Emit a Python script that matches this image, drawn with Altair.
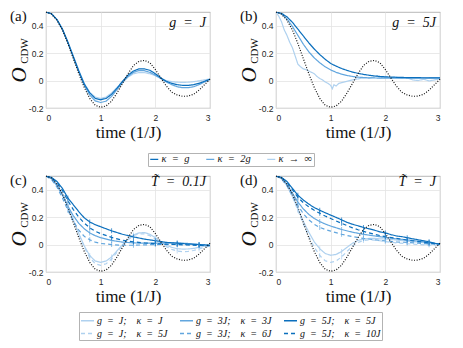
import altair as alt
import pandas as pd

# ---------------- data ----------------
T31 = [round(0.1 * i, 1) for i in range(31)]
T26 = [round(0.1 * i, 1) for i in range(21)] + [2.2, 2.4, 2.6, 2.8, 3.0]
T21 = [round(0.1 * i, 1) for i in range(11)] + [1.2, 1.4, 1.6, 1.8, 2.0, 2.2, 2.4, 2.6, 2.8, 3.0]

FREE = [0.5, 0.485, 0.44, 0.37, 0.27, 0.16, 0.05, -0.05, -0.13, -0.18, -0.195,
        -0.185, -0.15, -0.09, -0.02, 0.05, 0.11, 0.14, 0.147, 0.13, 0.08,
        0.02, -0.04, -0.085, -0.105, -0.115, -0.113, -0.1, -0.07, -0.03, 0.01]

# panel (a): g = J
A_KG = [0.5, 0.487, 0.445, 0.375, 0.28, 0.175, 0.07, -0.025, -0.09, -0.13, -0.14,
        -0.13, -0.1, -0.055, -0.005, 0.04, 0.07, 0.085, 0.085, 0.075, 0.05,
        0.02, -0.005, -0.02, -0.03, -0.035, -0.035, -0.03, -0.02, -0.005, 0.01]
A_K2G = [0.5, 0.487, 0.445, 0.373, 0.277, 0.17, 0.063, -0.035, -0.105, -0.148, -0.16,
         -0.15, -0.115, -0.065, -0.015, 0.03, 0.06, 0.073, 0.072, 0.06, 0.04,
         0.015, -0.01, -0.03, -0.045, -0.052, -0.052, -0.045, -0.03, -0.01, 0.01]
A_KINF = [0.5, 0.487, 0.446, 0.377, 0.283, 0.178, 0.075, -0.02, -0.085, -0.12, -0.13,
          -0.12, -0.09, -0.05, -0.01, 0.025, 0.05, 0.058, 0.058, 0.05, 0.035,
          0.015, 0.0, -0.008, -0.012, -0.013, -0.012, -0.008, -0.002, 0.005, 0.012]

# panel (b): g = 5J
B_KG = [0.5, 0.49, 0.465, 0.425, 0.375, 0.325, 0.275, 0.23, 0.19, 0.155, 0.125,
        0.105, 0.088, 0.074, 0.062, 0.053, 0.045, 0.039, 0.034, 0.03, 0.027,
        0.024, 0.022, 0.021, 0.02, 0.02]
B_K2G = [0.5, 0.485, 0.45, 0.395, 0.33, 0.265, 0.21, 0.165, 0.13, 0.1, 0.078,
         0.06, 0.047, 0.037, 0.03, 0.025, 0.022, 0.02, 0.019, 0.018, 0.018,
         0.018, 0.018, 0.018, 0.019, 0.02]
B_KINF_T = [0, 0.05, 0.1, 0.15, 0.2, 0.25, 0.3, 0.35, 0.4, 0.45, 0.5, 0.55, 0.6, 0.65,
            0.7, 0.75, 0.8, 0.85, 0.9, 0.95, 1.0, 1.03, 1.06, 1.1, 1.15, 1.2, 1.3,
            1.4, 1.5, 1.6, 1.7, 1.8, 1.85, 1.9, 2.0, 2.1, 2.2, 2.3, 2.4, 2.5, 2.6,
            2.7, 2.8, 2.9, 3.0]
B_KINF = [0.5, 0.47, 0.43, 0.37, 0.33, 0.28, 0.24, 0.18, 0.12, 0.1, 0.085, 0.08, 0.07,
          0.06, 0.05, 0.03, 0.015, 0.005, -0.01, -0.02, -0.035, -0.06, -0.03, -0.04,
          -0.02, -0.015, -0.005, 0.005, 0.012, 0.02, 0.018, 0.025, 0.035, 0.02, 0.028,
          0.02, 0.025, 0.015, 0.02, 0.005, 0.0, 0.01, -0.003, 0.005, 0.012]

# panel (c): T = 0.1J
C_J_J = [0.5, 0.485, 0.44, 0.37, 0.28, 0.18, 0.08, -0.01, -0.08, -0.12, -0.13,
         -0.12, -0.09, -0.045, 0.0, 0.04, 0.07, 0.085, 0.088, 0.075, 0.05,
         0.02, -0.005, -0.02, -0.03, -0.033, -0.032, -0.028, -0.02, -0.012, -0.008]
C_J_5J = [0.5, 0.485, 0.44, 0.37, 0.28, 0.18, 0.075, -0.02, -0.095, -0.14, -0.152,
          -0.14, -0.105, -0.055, -0.005, 0.035, 0.065, 0.078, 0.078, 0.065, 0.04,
          0.012, -0.015, -0.035, -0.047, -0.052, -0.05, -0.043, -0.032, -0.02, -0.01]
C_3J_3J = [0.5, 0.48, 0.43, 0.36, 0.28, 0.21, 0.155, 0.115, 0.085, 0.065, 0.05,
           0.03, 0.018, 0.012, 0.01, 0.01, 0.012, 0.012, 0.008, 0.0, -0.005]
C_3J_6J = [0.5, 0.475, 0.42, 0.34, 0.25, 0.17, 0.105, 0.06, 0.035, 0.018, 0.008,
           0.0, -0.005, -0.005, -0.002, 0.0, 0.002, 0.003, 0.0, -0.003, -0.006]
C_5J_5J = [0.5, 0.49, 0.46, 0.41, 0.34, 0.29, 0.24, 0.195, 0.165, 0.145, 0.13,
           0.1, 0.075, 0.056, 0.04, 0.028, 0.016, 0.01, 0.004, 0.0, -0.005]
C_5J_10J = [0.5, 0.487, 0.452, 0.395, 0.32, 0.255, 0.2, 0.157, 0.122, 0.097, 0.08,
            0.052, 0.032, 0.02, 0.012, 0.007, 0.003, 0.0, -0.003, -0.006, -0.008]

# panel (d): T = J
D_J_J = [0.5, 0.48, 0.43, 0.35, 0.26, 0.17, 0.09, 0.02, -0.03, -0.065, -0.078,
         -0.072, -0.05, -0.02, 0.01, 0.03, 0.04, 0.045, 0.045, 0.042, 0.04,
         0.038, 0.033, 0.029, 0.025, 0.021, 0.018, 0.014, 0.01, 0.006, 0.003]
D_J_5J = [0.5, 0.48, 0.43, 0.35, 0.25, 0.15, 0.06, -0.02, -0.08, -0.118, -0.13,
          -0.12, -0.09, -0.05, -0.01, 0.015, 0.03, 0.035, 0.033, 0.028, 0.022,
          0.012, 0.006, 0.0, -0.004, -0.005]
D_3J_3J = [0.5, 0.485, 0.44, 0.375, 0.31, 0.26, 0.22, 0.19, 0.168, 0.15, 0.135,
           0.11, 0.09, 0.075, 0.063, 0.052, 0.042, 0.034, 0.025, 0.015, 0.003]
D_3J_6J = [0.5, 0.48, 0.43, 0.36, 0.285, 0.225, 0.18, 0.148, 0.125, 0.11, 0.098,
           0.075, 0.058, 0.045, 0.035, 0.027, 0.02, 0.015, 0.01, 0.005, 0.0]
D_5J_5J = [0.5, 0.49, 0.46, 0.41, 0.36, 0.325, 0.295, 0.27, 0.25, 0.232, 0.215,
           0.198, 0.18, 0.162, 0.148, 0.137, 0.125, 0.115, 0.105, 0.093, 0.085,
           0.073, 0.063, 0.058, 0.05, 0.042, 0.035, 0.028, 0.02, 0.01, 0.002]
D_5J_10J = [0.5, 0.49, 0.455, 0.4, 0.345, 0.305, 0.275, 0.25, 0.228, 0.208, 0.19,
            0.172, 0.155, 0.138, 0.122, 0.108, 0.096, 0.085, 0.075, 0.066, 0.058,
            0.045, 0.033, 0.022, 0.012, 0.003]

# legend labels
ES = "\u2002"   # en space
QS = "\u2003"   # em space
K_NAMES = [f"κ{ES}={ES}g", f"κ{ES}={ES}2g", f"κ{ES}→{ES}∞"]
S_NAMES = [f"g{ES}={ES}J;{QS}κ{ES}={ES}J", f"g{ES}={ES}3J;{QS}κ{ES}={ES}3J",
           f"g{ES}={ES}5J;{QS}κ{ES}={ES}5J", f"g{ES}={ES}J;{QS}κ{ES}={ES}5J",
           f"g{ES}={ES}3J;{QS}κ{ES}={ES}6J", f"g{ES}={ES}5J;{QS}κ{ES}={ES}10J"]
TICK_T = [0.4, 0.8, 1.2, 1.6, 2.0, 2.4, 2.8]

DARK, MID, LIGHT = "#0b6fbd", "#62a6de", "#afd1ef"
SOLID, DASH = [1, 0], [4, 3]
SERIF = "Liberation Serif"


def frame(pairs):
    rows = []
    for name, ts, vs in pairs:
        for t, v in zip(ts, vs):
            rows.append({"s": name, "t": t, "v": v})
    return pd.DataFrame(rows)


df_free = pd.DataFrame({"t": T31, "v": FREE})
df_a = frame([(K_NAMES[2], T31, A_KINF), (K_NAMES[1], T31, A_K2G), (K_NAMES[0], T31, A_KG)])
df_b = frame([(K_NAMES[2], B_KINF_T, B_KINF), (K_NAMES[1], T26, B_K2G), (K_NAMES[0], T26, B_KG)])
df_c = frame([(S_NAMES[0], T31, C_J_J), (S_NAMES[3], T31, C_J_5J),
              (S_NAMES[1], T21, C_3J_3J), (S_NAMES[4], T21, C_3J_6J),
              (S_NAMES[2], T21, C_5J_5J), (S_NAMES[5], T21, C_5J_10J)])
df_d = frame([(S_NAMES[0], T31, D_J_J), (S_NAMES[3], T26, D_J_5J),
              (S_NAMES[1], T21, D_3J_3J), (S_NAMES[4], T21, D_3J_6J),
              (S_NAMES[2], T31, D_5J_5J), (S_NAMES[5], T26, D_5J_10J)])

W, H = 164, 96


def make_legend(lx, ly, size, fsize, colpad):
    return alt.Legend(orient="none", legendX=lx, legendY=ly, direction="horizontal",
                      columns=3, title=None, symbolType="stroke", symbolSize=size,
                      symbolStrokeWidth=1.3, symbolOpacity=1, labelFont=SERIF,
                      labelFontStyle="italic", labelFontSize=fsize, labelColor="#111111",
                      strokeColor="#b3b3b3", fillColor="white", padding=1, labelOffset=2,
                      columnPadding=colpad, rowPadding=0)


def text_layer(txt, x, y, size, style="normal", align="left", baseline="top", angle=0):
    return alt.Chart(pd.DataFrame({"txt": [txt]})).mark_text(
        font=SERIF, fontSize=size, fontStyle=style, align=align, baseline=baseline,
        angle=angle, color="#111111").encode(text="txt:N", x=alt.value(x), y=alt.value(y))


def panel(df, domain, colors, dashes, legend, label, annot, annot_y, ticks=False):
    x = alt.X("t:Q", scale=alt.Scale(domain=[0, 3], nice=False, zero=False),
              axis=alt.Axis(values=[0, 1, 2, 3], format="d", title="time (1/J)",
                            tickCount=10))
    y = alt.Y("v:Q", scale=alt.Scale(domain=[-0.2, 0.5], nice=False, zero=False),
              axis=alt.Axis(values=[-0.2, 0, 0.2, 0.4], title=None, labelOverlap=False,
                            tickCount=10,
                            labelExpr="datum.value == 0 ? '0' : (datum.value < 0 ? '-' + format(-datum.value, '.1f') : format(datum.value, '.1f'))"))
    col = alt.Color("s:N", scale=alt.Scale(domain=domain, range=colors), legend=legend)
    dash = alt.StrokeDash("s:N", scale=alt.Scale(domain=domain, range=dashes), legend=legend)
    lines = alt.Chart(df).mark_line(strokeWidth=1.2, clip=True).encode(
        x=x, y=y, color=col, strokeDash=dash)
    free = alt.Chart(df_free).mark_line(color="#111111", strokeDash=[1, 1.6],
                                        strokeWidth=1.2).encode(x="t:Q", y="v:Q")
    layers = [lines, free]
    if ticks:
        tk = alt.Chart(df).mark_tick(orient="vertical", size=5, thickness=1).encode(
            x="t:Q", y="v:Q", color=col).transform_filter(
            alt.FieldOneOfPredicate(field="t", oneOf=TICK_T))
        layers.append(tk)
    layers += [
        text_layer(label, -36, -3, 15),
        text_layer(annot, W - 4, annot_y, 14, style="italic", align="right",
                   baseline="alphabetic"),
        text_layer("O", -26, 63, 21, style="italic", align="center",
                   baseline="middle", angle=270),
        text_layer("CDW", -21.5, 39, 11, align="center", baseline="middle", angle=270),
    ]
    return alt.layer(*layers).properties(width=W, height=H)


pa = panel(df_a, K_NAMES, [DARK, MID, LIGHT], [SOLID, SOLID, SOLID],
           make_legend(102, 141, 64, 10.5, 13), "(a)", f"g{ES}={ES}J", 15)
pb = panel(df_b, K_NAMES, [DARK, MID, LIGHT], [SOLID, SOLID, SOLID],
           None, "(b)", f"g{ES}={ES}5J", 15)
pc = panel(df_c, S_NAMES, [LIGHT, MID, DARK, LIGHT, MID, DARK],
           [SOLID, SOLID, SOLID, DASH, DASH, DASH],
           make_legend(33, 136, 169, 10, 9), "(c)", f"T\u0303{ES}={ES}0.1J", 10,
           ticks=True)
pd_ = panel(df_d, S_NAMES, [LIGHT, MID, DARK, LIGHT, MID, DARK],
            [SOLID, SOLID, SOLID, DASH, DASH, DASH],
            None, "(d)", f"T\u0303{ES}={ES}J", 10, ticks=True)

chart = alt.concat(pa, pb, pc, pd_, columns=2, spacing={"row": 68, "column": 66},
                   bounds="flush").resolve_scale(
    color="independent", strokeDash="independent").properties(
    padding={"left": 0, "top": 0, "right": 0, "bottom": 0}
).configure_view(stroke="#a6a6a6", strokeWidth=0.8).configure_axis(
    grid=True, gridColor="#e3e3e3", gridWidth=0.8, domain=False, ticks=False,
    labelFont="Liberation Sans", labelFontSize=8.5, labelColor="#262626",
    titleFont=SERIF, titleFontSize=17, titleFontWeight="normal", titleColor="#111111"
).configure_axisX(labelPadding=5, titlePadding=3).configure_axisY(labelPadding=3)

chart.save("out.html", embed_options={"renderer": "svg", "actions": False})
